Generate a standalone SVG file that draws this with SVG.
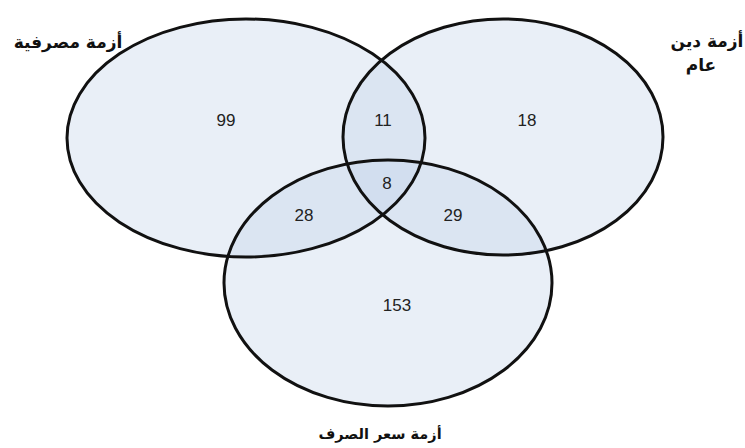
<svg xmlns="http://www.w3.org/2000/svg" width="745" height="448" viewBox="0 0 745 448">
  <style>
    .set { fill: #c3d3ea; fill-opacity: 0.36; stroke: none; }
    .edge { fill: none; stroke: #111; stroke-width: 3; }
    .num { font-family: "Liberation Sans", Arial, sans-serif; font-size: 17px; fill: #222; text-anchor: middle; }
    .lbl { font-family: "DejaVu Sans", "Noto Sans", sans-serif; font-size: 17px; font-weight: bold; fill: #111; text-anchor: middle; }
  </style>
  <rect width="745" height="448" fill="#ffffff"/>

  <!-- shaded set regions -->
  <g id="fills">
    <ellipse class="set" cx="246" cy="138" rx="179" ry="119"/>
    <ellipse class="set" cx="503" cy="137" rx="160" ry="118"/>
    <ellipse class="set" cx="388" cy="283" rx="164" ry="123"/>
  </g>

  <!-- set outlines -->
  <g id="set-banking">
    <ellipse class="edge" cx="246" cy="138" rx="179" ry="119"/>
    <text class="lbl" x="68" y="48" direction="rtl">أزمة مصرفية</text>
  </g>
  <g id="set-debt">
    <ellipse class="edge" cx="503" cy="137" rx="160" ry="118"/>
    <text class="lbl" x="707" y="47" direction="rtl">أزمة دين</text>
    <text class="lbl" x="701" y="71" direction="rtl">عام</text>
  </g>
  <g id="set-currency">
    <ellipse class="edge" cx="388" cy="283" rx="164" ry="123"/>
    <text class="lbl" x="380" y="439" direction="rtl" style="font-size:14.5px">أزمة سعر الصرف</text>
  </g>

  <!-- region counts -->
  <g id="counts">
    <text class="num" x="226" y="126">99</text>
    <text class="num" x="383" y="126">11</text>
    <text class="num" x="527" y="126">18</text>
    <text class="num" x="387" y="189">8</text>
    <text class="num" x="304" y="221">28</text>
    <text class="num" x="453" y="221">29</text>
    <text class="num" x="397" y="311">153</text>
  </g>
</svg>
